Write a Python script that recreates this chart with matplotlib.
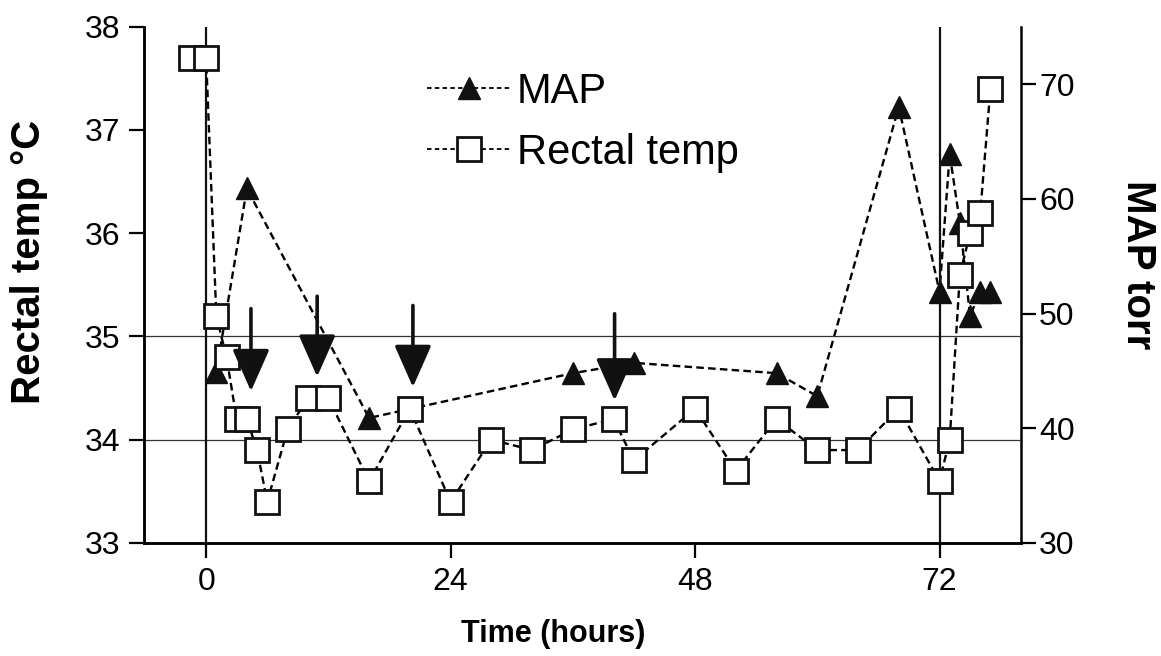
import matplotlib
matplotlib.use("Agg")
import matplotlib.pyplot as plt
from matplotlib.lines import Line2D

plt.rcParams['font.family'] = ['Liberation Sans', 'DejaVu Sans']

# Rectal temperature (squares, left axis)
temp_hours = [-1.5, 0, 1, 2, 3, 4, 5, 6, 8, 10, 12, 16, 20, 24, 28, 32, 36, 40, 42, 48,
              52, 56, 60, 64, 68, 72, 73, 74, 75, 76, 77]
temp_vals = [37.7, 37.7, 35.2, 34.8, 34.2, 34.2, 33.9, 33.4, 34.1, 34.4, 34.4, 33.6, 34.3, 33.4,
             34.0, 33.9, 34.1, 34.2, 33.8, 34.3, 33.7, 34.2, 33.9, 33.9, 34.3, 33.6, 34.0, 35.6,
             36.0, 36.2, 37.4]

# MAP (triangles, right axis)
map_hours = [1, 4, 16, 36, 42, 56, 60, 68, 72, 73, 74, 75, 76, 77]
map_vals = [44.9, 60.9, 40.9, 44.8, 45.7, 44.8, 42.8, 68.0, 51.9, 63.9, 57.9, 49.8, 51.9, 51.9]

# downward arrows (hour, tip temp, tail temp)
arrow_hours = [4.4, 10.9, 20.3, 40.1]
arrow_tip = [34.47, 34.61, 34.51, 34.38]
arrow_tail = [35.27, 35.39, 35.30, 35.22]

ref_temps = [34, 35]
ref_hours = [0, 72]

fig = plt.figure(figsize=(11.61, 6.56), dpi=100)
ax = fig.add_axes([144 / 1161, 1 - 543 / 656, 877 / 1161, 516.3 / 656])
ax2 = ax.twinx()
ax.set_zorder(ax2.get_zorder() + 1)
ax.patch.set_visible(False)

dash = (0, (3.2, 1.8))

ax2.plot(map_hours, map_vals, color='black', lw=1.7, linestyle=dash,
         marker='^', markersize=16, markerfacecolor='#111111', markeredgecolor='#111111')

for t in ref_temps:
    ax.axhline(t, color='#333333', lw=0.9, zorder=1)
for h in ref_hours:
    ax.axvline(h, color='#111111', lw=1.6, zorder=1)

ax.plot(temp_hours, temp_vals, color='black', lw=1.7, linestyle=dash,
        marker='s', markersize=17, markerfacecolor='white', markeredgecolor='#111111',
        markeredgewidth=2.0, zorder=3)

for h, tip, tail in zip(arrow_hours, arrow_tip, arrow_tail):
    ax.annotate('', xy=(h, tip), xytext=(h, tail),
                arrowprops=dict(arrowstyle='-|>,head_length=2.6,head_width=1.15',
                                lw=2.6, color='#111111', shrinkA=0, shrinkB=0,
                                mutation_scale=10), zorder=4)

ax.set_xlim(-6.1, 80)
ax.set_ylim(33, 38)
ax2.set_ylim(30, 75)
ax.set_xticks([0, 24, 48, 72])
ax.set_yticks([33, 34, 35, 36, 37, 38])
ax2.set_yticks([30, 40, 50, 60, 70])

for a in (ax, ax2):
    a.spines['top'].set_visible(False)
    for s in a.spines.values():
        s.set_linewidth(1.8)
ax.spines['right'].set_visible(False)

ax.tick_params(axis='both', direction='out', length=11, width=1.6, labelsize=23, pad=6)
ax2.tick_params(axis='y', direction='out', length=11, width=1.6, labelsize=23, pad=2)

ax.set_xlabel('Time (hours)', fontsize=22, fontweight='bold')
ax.xaxis.set_label_coords((553 - 144) / 877, -0.148)
fig.text(29 / 1161, 1 - 262 / 656, 'Rectal temp °C', rotation=90, fontsize=29,
         fontweight='bold', ha='center', va='center')
fig.text(1138 / 1161, 1 - 265 / 656, 'MAP torr', rotation=270, fontsize=29,
         fontweight='bold', ha='center', va='center')

handles = [
    Line2D([], [], color='black', lw=1.3, linestyle=(0, (2.5, 1.8)), marker='^', markersize=16,
           markerfacecolor='#111111', markeredgecolor='#111111'),
    Line2D([], [], color='black', lw=1.3, linestyle=(0, (2.5, 1.8)), marker='s', markersize=17,
           markerfacecolor='white', markeredgecolor='#111111', markeredgewidth=2.0),
]
ax.legend(handles, ['MAP', 'Rectal temp'], loc='upper left',
          bbox_to_anchor=((427 - 144) / 877, (543 - 72) / 516.3), frameon=False,
          fontsize=30, handlelength=2.0, handletextpad=0.15, labelspacing=0.5,
          borderpad=0, borderaxespad=0)

fig.savefig('out.png', dpi=100)
